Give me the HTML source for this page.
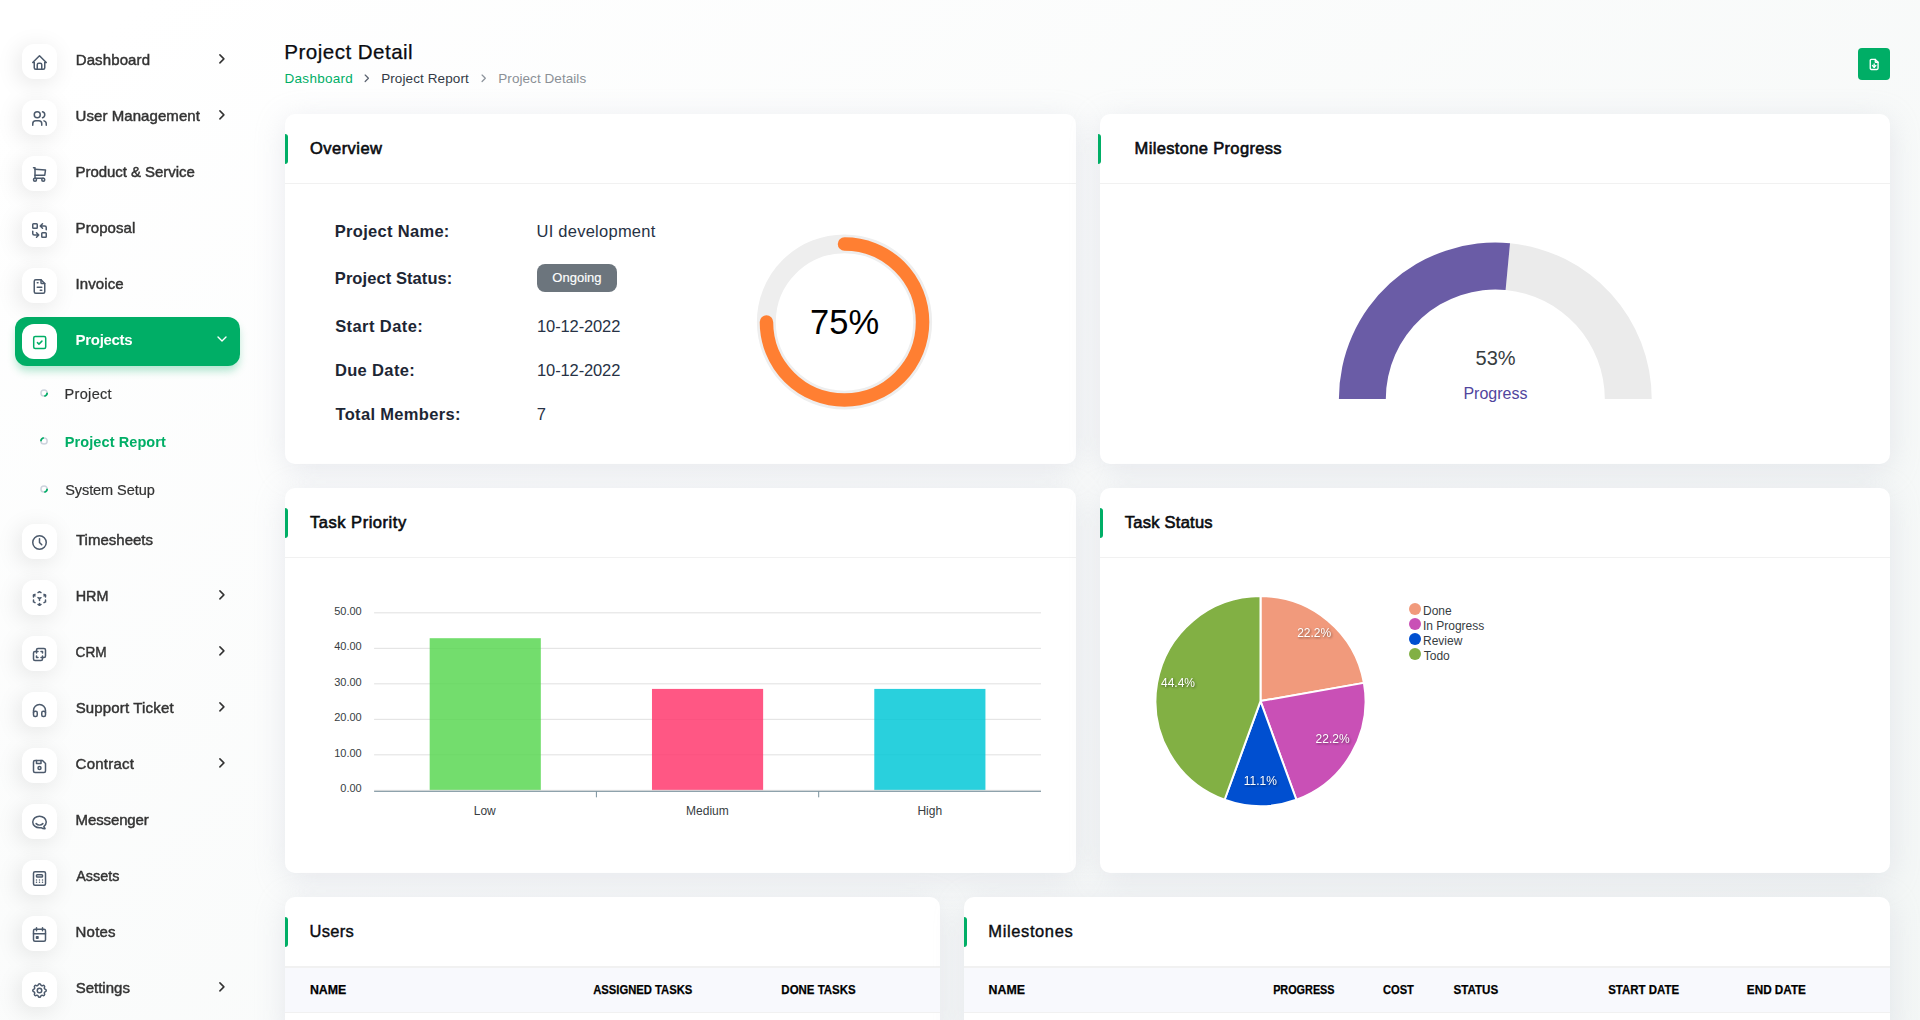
<!DOCTYPE html>
<html lang="en"><head><meta charset="utf-8"><title>Project Detail</title>
<style>
*{box-sizing:border-box}
html,body{margin:0;padding:0}
body{width:1920px;height:1020px;overflow:hidden;position:relative;font-family:"Liberation Sans",sans-serif;
background:#ffffff}
#page{position:relative;width:1920px;height:1020px;overflow:hidden}
#bg{position:absolute;left:0;top:0;width:1920px;height:1700px;background:linear-gradient(141.55deg,rgba(240,244,243,0) 3.46%,#f0f4f3 99.86%)}
#side{position:absolute;left:0;top:0;width:280px;height:1020px;will-change:transform}
#main{position:absolute;left:0;top:0;width:1920px;height:1020px}
.t{position:absolute;white-space:nowrap;line-height:1;display:block}
.i{position:absolute;display:block;overflow:visible}
.ibox{position:absolute;width:35px;height:35px;border-radius:12px;background:#fff;box-shadow:-3px 4px 23px rgba(0,0,0,.1)}
.navact{position:absolute;border-radius:12px;background:#00ae66;box-shadow:0 6px 9px -1px rgba(0,174,102,.3)}
.card{position:absolute;background:#fff;border-radius:10px;box-shadow:0 6px 30px rgba(182,186,203,.3)}
.hline{position:absolute;height:1px;background:#f1f1f1}
.bar{position:absolute;width:3px;height:30px;background:#00ae66;border-radius:0 3px 3px 0}
.btn{position:absolute;width:32px;height:32px;border-radius:4px;background:#00ae66}
.badge{position:absolute;border-radius:8px;background:#6c757d}
.dot{position:absolute;width:12px;height:12px;border-radius:50%}
.thead{position:absolute;background:#f8f9fd;border-top:1px solid #f1f1f1;border-bottom:1px solid #f1f1f1}
</style></head>
<body>
<div id="page">
<div id="bg"></div>
<div id="main">
<span class="t" style="left:284.34px;top:42px;font-size:20.6px;color:#0a0c10;letter-spacing:0.453px;-webkit-text-stroke:0.25px #0a0c10;">Project Detail</span>
<span class="t" style="left:284.59px;top:72px;font-size:13.5px;color:#00ae66;letter-spacing:0.266px;">Dashboard</span>
<svg class="i" style="left:359px;top:70px" width="16" height="16" viewBox="359 70 16 16" ><g transform="translate(360.300 71.800) scale(0.54167)" fill="none" stroke="#5c6370" stroke-width="2.3" stroke-linecap="round" stroke-linejoin="round"><polyline points="9 18 15 12 9 6"/></g></svg>
<span class="t" style="left:381.14px;top:72px;font-size:13.5px;color:#333a45;letter-spacing:0.105px;">Project Report</span>
<svg class="i" style="left:476px;top:70px" width="15" height="16" viewBox="476 70 15 16" ><g transform="translate(477.200 71.800) scale(0.54167)" fill="none" stroke="#8d949c" stroke-width="2.3" stroke-linecap="round" stroke-linejoin="round"><polyline points="9 18 15 12 9 6"/></g></svg>
<span class="t" style="left:498.29px;top:72px;font-size:13.5px;color:#8b9096;letter-spacing:0.061px;">Project Details</span>
<div class="btn" style="left:1858px;top:48px"></div>
<svg class="i" style="left:1866px;top:56px" width="16" height="17" viewBox="1866 56 16 17" ><g transform="translate(1867.450 57.750) scale(0.55833)" fill="none" stroke="#fff" stroke-width="2.4" stroke-linecap="round" stroke-linejoin="round"><path d="M14 3v4a1 1 0 0 0 1 1h4"/><path d="M17 21h-10a2 2 0 0 1 -2 -2v-14a2 2 0 0 1 2 -2h7l5 5v11a2 2 0 0 1 -2 2z"/><line x1="12" y1="11" x2="12" y2="17"/><polyline points="9 14 12 17 15 14"/></g></svg>
<div class="card" style="left:285px;top:114px;width:791px;height:350px"></div>
<div class="hline" style="left:285px;top:183px;width:791px"></div>
<div class="bar" style="left:285px;top:134px"></div>
<span class="t" style="left:310.02px;top:140px;font-size:16.5px;color:#0a0c10;letter-spacing:0.453px;-webkit-text-stroke:0.6px #0a0c10;">Overview</span>
<div class="card" style="left:1100px;top:114px;width:790px;height:350px"></div>
<div class="hline" style="left:1100px;top:183px;width:790px"></div>
<div class="bar" style="left:1098px;top:134px"></div>
<span class="t" style="left:1134.55px;top:140px;font-size:16.5px;color:#0a0c10;letter-spacing:0.343px;-webkit-text-stroke:0.6px #0a0c10;">Milestone Progress</span>
<div class="card" style="left:285px;top:488px;width:791px;height:385px"></div>
<div class="hline" style="left:285px;top:557px;width:791px"></div>
<div class="bar" style="left:285px;top:508px"></div>
<span class="t" style="left:309.94px;top:514px;font-size:16.5px;color:#0a0c10;letter-spacing:0.529px;-webkit-text-stroke:0.6px #0a0c10;">Task Priority</span>
<div class="card" style="left:1100px;top:488px;width:790px;height:385px"></div>
<div class="hline" style="left:1100px;top:557px;width:790px"></div>
<div class="bar" style="left:1100px;top:508px"></div>
<span class="t" style="left:1124.84px;top:514px;font-size:16.5px;color:#0a0c10;letter-spacing:0.247px;-webkit-text-stroke:0.6px #0a0c10;">Task Status</span>
<div class="card" style="left:285px;top:897px;width:655px;height:140px"></div>
<div class="hline" style="left:285px;top:966px;width:655px"></div>
<div class="bar" style="left:285px;top:917px"></div>
<span class="t" style="left:309.53px;top:923px;font-size:16.5px;color:#0a0c10;letter-spacing:0.271px;-webkit-text-stroke:0.4px #0a0c10;">Users</span>
<div class="card" style="left:964px;top:897px;width:926px;height:140px"></div>
<div class="hline" style="left:964px;top:966px;width:926px"></div>
<div class="bar" style="left:964px;top:917px"></div>
<span class="t" style="left:988.35px;top:923px;font-size:16.5px;color:#0a0c10;letter-spacing:0.609px;-webkit-text-stroke:0.4px #0a0c10;">Milestones</span>
<span class="t" style="left:334.81px;top:223px;font-size:16.5px;color:#1d2634;font-weight:700;letter-spacing:0.301px;">Project Name:</span>
<span class="t" style="left:334.81px;top:270px;font-size:16.5px;color:#1d2634;font-weight:700;letter-spacing:0.074px;">Project Status:</span>
<span class="t" style="left:335.19px;top:318px;font-size:16.5px;color:#1d2634;font-weight:700;letter-spacing:0.416px;">Start Date:</span>
<span class="t" style="left:334.91px;top:362px;font-size:16.5px;color:#1d2634;font-weight:700;letter-spacing:0.356px;">Due Date:</span>
<span class="t" style="left:335.47px;top:406px;font-size:16.5px;color:#1d2634;font-weight:700;letter-spacing:0.327px;">Total Members:</span>
<span class="t" style="left:536.53px;top:223px;font-size:16.5px;color:#273245;letter-spacing:0.248px;">UI development</span>
<div class="badge" style="left:537px;top:264px;width:80px;height:28px"></div>
<span class="t" style="left:552.36px;top:271px;font-size:13.0px;color:#fff;letter-spacing:0.007px;-webkit-text-stroke:0.15px #fff;">Ongoing</span>
<span class="t" style="left:537.05px;top:318px;font-size:16.5px;color:#273245;letter-spacing:-0.124px;">10-12-2022</span>
<span class="t" style="left:537.05px;top:362px;font-size:16.5px;color:#273245;letter-spacing:-0.124px;">10-12-2022</span>
<span class="t" style="left:536.76px;top:406px;font-size:16.5px;color:#273245;">7</span>
<svg class="i" style="left:753px;top:231px" width="183" height="182" viewBox="753 231 183 182" ><g transform="translate(844.5 322.0)" fill="none"><circle cx="0" cy="0" r="78.15" stroke="#eeeeee" stroke-width="18.9"/><path d="M0 -78.05A78.05 78.05 0 1 1 -78.05 0" stroke="#ff7f32" stroke-width="13.5" stroke-linecap="round"/></g></svg>
<span class="t" style="left:810.11px;top:305px;font-size:34.5px;color:#000;">75%</span>
<svg class="i" style="left:1336px;top:240px" width="319" height="160" viewBox="1336 240 319 160" ><g transform="translate(1495.3 399)"><path d="M14.72 -155.71A156.4 156.4 0 0 1 156.40 -0.00L109.50 -0.00A109.5 109.5 0 0 0 10.30 -109.01Z" fill="#ebebeb"/><path d="M-156.40 -0.00A156.4 156.4 0 0 1 14.72 -155.71L10.30 -109.01A109.5 109.5 0 0 0 -109.50 -0.00Z" fill="#6a5ca6"/></g></svg>
<span class="t" style="left:1475.54px;top:348px;font-size:20.0px;color:#373d3f;">53%</span>
<span class="t" style="left:1463.42px;top:386px;font-size:16.0px;color:#51459d;">Progress</span>
<svg class="i" style="left:300px;top:590px" width="760" height="250" viewBox="300 590 760 250"><line x1="374.1" x2="1041" y1="612.84" y2="612.84" stroke="#e0e0e0" stroke-width="1"/><line x1="374.1" x2="1041" y1="648.34" y2="648.34" stroke="#e0e0e0" stroke-width="1"/><line x1="374.1" x2="1041" y1="683.84" y2="683.84" stroke="#e0e0e0" stroke-width="1"/><line x1="374.1" x2="1041" y1="719.34" y2="719.34" stroke="#e0e0e0" stroke-width="1"/><line x1="374.1" x2="1041" y1="754.84" y2="754.84" stroke="#e0e0e0" stroke-width="1"/><rect x="429.68" y="638.20" width="111.15" height="152.14" fill="#5ad754" fill-opacity="0.85"/><rect x="651.98" y="688.91" width="111.15" height="101.43" fill="#ff3a6e" fill-opacity="0.85"/><rect x="874.28" y="688.91" width="111.15" height="101.43" fill="#03c8d7" fill-opacity="0.85"/><line x1="374.1" x2="1041" y1="790.34" y2="790.34" stroke="#e0e0e0" stroke-width="1"/><line x1="374.1" x2="1041" y1="791.34" y2="791.34" stroke="#78909c" stroke-width="1"/><line x1="596.40" x2="596.40" y1="791.34" y2="797.34" stroke="#78909c" stroke-width="1"/><line x1="818.70" x2="818.70" y1="791.34" y2="797.34" stroke="#78909c" stroke-width="1"/></svg>
<span class="t" style="left:334.20px;top:606px;font-size:11.0px;color:#373d3f;">50.00</span>
<span class="t" style="left:334.20px;top:641px;font-size:11.0px;color:#373d3f;">40.00</span>
<span class="t" style="left:334.20px;top:677px;font-size:11.0px;color:#373d3f;">30.00</span>
<span class="t" style="left:334.20px;top:712px;font-size:11.0px;color:#373d3f;">20.00</span>
<span class="t" style="left:334.20px;top:748px;font-size:11.0px;color:#373d3f;">10.00</span>
<span class="t" style="left:340.31px;top:783px;font-size:11.0px;color:#373d3f;">0.00</span>
<span class="t" style="left:473.74px;top:805px;font-size:12.0px;color:#373d3f;">Low</span>
<span class="t" style="left:686.11px;top:805px;font-size:12.0px;color:#373d3f;">Medium</span>
<span class="t" style="left:917.40px;top:805px;font-size:12.0px;color:#373d3f;">High</span>
<svg class="i" style="left:1150px;top:590px" width="230" height="225" viewBox="1150 590 230 225"><path d="M1260.5 701.1L1260.50 596.10A105 105 0 0 1 1363.90 682.87Z" fill="#f19a7c" stroke="#fff" stroke-width="2" stroke-linejoin="round"/><path d="M1260.5 701.1L1363.90 682.87A105 105 0 0 1 1296.41 799.77Z" fill="#c950b6" stroke="#fff" stroke-width="2" stroke-linejoin="round"/><path d="M1260.5 701.1L1296.41 799.77A105 105 0 0 1 1224.59 799.77Z" fill="#004fd0" stroke="#fff" stroke-width="2" stroke-linejoin="round"/><path d="M1260.5 701.1L1224.59 799.77A105 105 0 0 1 1260.50 596.10Z" fill="#82b044" stroke="#fff" stroke-width="2" stroke-linejoin="round"/></svg>
<span class="t" style="left:1297.20px;top:627px;font-size:12.0px;color:#fff;filter:drop-shadow(1px 1px 1px rgba(0,0,0,.45));">22.2%</span>
<span class="t" style="left:1315.60px;top:733px;font-size:12.0px;color:#fff;filter:drop-shadow(1px 1px 1px rgba(0,0,0,.45));">22.2%</span>
<span class="t" style="left:1243.69px;top:775px;font-size:12.0px;color:#fff;filter:drop-shadow(1px 1px 1px rgba(0,0,0,.45));">11.1%</span>
<span class="t" style="left:1160.97px;top:677px;font-size:12.0px;color:#fff;filter:drop-shadow(1px 1px 1px rgba(0,0,0,.45));">44.4%</span>
<div class="dot" style="left:1409.2px;top:603.10px;background:#f19a7c"></div>
<span class="t" style="left:1423.02px;top:605px;font-size:12.0px;color:#373d3f;">Done</span>
<div class="dot" style="left:1409.2px;top:618.05px;background:#c950b6"></div>
<span class="t" style="left:1422.90px;top:620px;font-size:12.0px;color:#373d3f;">In Progress</span>
<div class="dot" style="left:1409.2px;top:633.00px;background:#004fd0"></div>
<span class="t" style="left:1423.02px;top:635px;font-size:12.0px;color:#373d3f;">Review</span>
<div class="dot" style="left:1409.2px;top:647.95px;background:#82b044"></div>
<span class="t" style="left:1423.74px;top:650px;font-size:12.0px;color:#373d3f;">Todo</span>
<div class="thead" style="left:285px;top:967px;width:655px;height:46px"></div>
<div class="thead" style="left:964px;top:967px;width:926px;height:46px"></div>
<span class="t" style="left:309px;top:984px;font-size:12.5px;color:#000;font-weight:700;-webkit-text-stroke:0.25px #000;transform:translateX(0.91px) scaleX(0.9878);transform-origin:0 0;">NAME</span>
<span class="t" style="left:593px;top:984px;font-size:12.5px;color:#000;font-weight:700;-webkit-text-stroke:0.25px #000;transform:translateX(0.14px) scaleX(0.9000);transform-origin:0 0;">ASSIGNED TASKS</span>
<span class="t" style="left:781px;top:984px;font-size:12.5px;color:#000;font-weight:700;-webkit-text-stroke:0.25px #000;transform:translateX(0.36px) scaleX(0.9167);transform-origin:0 0;">DONE TASKS</span>
<span class="t" style="left:988px;top:984px;font-size:12.5px;color:#000;font-weight:700;-webkit-text-stroke:0.25px #000;transform:translateX(0.61px) scaleX(0.9878);transform-origin:0 0;">NAME</span>
<span class="t" style="left:1273px;top:984px;font-size:12.5px;color:#000;font-weight:700;-webkit-text-stroke:0.25px #000;transform:translateX(0.14px) scaleX(0.8669);transform-origin:0 0;">PROGRESS</span>
<span class="t" style="left:1383px;top:984px;font-size:12.5px;color:#000;font-weight:700;-webkit-text-stroke:0.25px #000;transform:translateX(0.06px) scaleX(0.8882);transform-origin:0 0;">COST</span>
<span class="t" style="left:1453px;top:984px;font-size:12.5px;color:#000;font-weight:700;-webkit-text-stroke:0.25px #000;transform:translateX(0.54px) scaleX(0.9272);transform-origin:0 0;">STATUS</span>
<span class="t" style="left:1608px;top:984px;font-size:12.5px;color:#000;font-weight:700;-webkit-text-stroke:0.25px #000;transform:translateX(0.19px) scaleX(0.9163);transform-origin:0 0;">START DATE</span>
<span class="t" style="left:1746px;top:984px;font-size:12.5px;color:#000;font-weight:700;-webkit-text-stroke:0.25px #000;transform:translateX(0.84px) scaleX(0.9386);transform-origin:0 0;">END DATE</span>
</div>
<div id="side">
<div class="navact" style="left:15px;top:317px;width:225px;height:49px"></div>
<div class="ibox" style="left:22px;top:44.0px"></div>
<svg class="i" style="left:29px;top:52px" width="21" height="21" viewBox="29 52 21 21" ><g transform="translate(30.500 53.500) scale(0.75000)" fill="none" stroke="#4c5a6c" stroke-width="2" stroke-linecap="round" stroke-linejoin="round"><polyline points="5 12 3 12 12 3 21 12 19 12"/><path d="M5 12v7a2 2 0 0 0 2 2h10a2 2 0 0 0 2 -2v-7"/><path d="M9 21v-6a2 2 0 0 1 2 -2h2a2 2 0 0 1 2 2v6"/></g></svg>
<span class="t" style="left:75.70px;top:52px;font-size:15.0px;color:#333333;letter-spacing:0.120px;-webkit-text-stroke:0.45px #333333;">Dashboard</span>
<svg class="i" style="left:212px;top:49px" width="19" height="19" viewBox="212 49 19 19" ><g transform="translate(213.900 50.900) scale(0.66667)" fill="none" stroke="#333" stroke-width="2.3" stroke-linecap="round" stroke-linejoin="round"><polyline points="9 18 15 12 9 6"/></g></svg>
<div class="ibox" style="left:22px;top:100.0px"></div>
<svg class="i" style="left:29px;top:108px" width="21" height="21" viewBox="29 108 21 21" ><g transform="translate(30.500 109.500) scale(0.75000)" fill="none" stroke="#4c5a6c" stroke-width="2" stroke-linecap="round" stroke-linejoin="round"><circle cx="9" cy="7" r="4"/><path d="M3 21v-2a4 4 0 0 1 4 -4h4a4 4 0 0 1 4 4v2"/><path d="M16 3.13a4 4 0 0 1 0 7.75"/><path d="M21 21v-2a4 4 0 0 0 -3 -3.85"/></g></svg>
<span class="t" style="left:75.57px;top:108px;font-size:15.0px;color:#333333;letter-spacing:0.066px;-webkit-text-stroke:0.45px #333333;">User Management</span>
<svg class="i" style="left:212px;top:105px" width="19" height="19" viewBox="212 105 19 19" ><g transform="translate(213.900 106.900) scale(0.66667)" fill="none" stroke="#333" stroke-width="2.3" stroke-linecap="round" stroke-linejoin="round"><polyline points="9 18 15 12 9 6"/></g></svg>
<div class="ibox" style="left:22px;top:156.0px"></div>
<svg class="i" style="left:29px;top:164px" width="21" height="21" viewBox="29 164 21 21" ><g transform="translate(30.500 165.500) scale(0.75000)" fill="none" stroke="#4c5a6c" stroke-width="2" stroke-linecap="round" stroke-linejoin="round"><circle cx="6" cy="19" r="2"/><circle cx="17" cy="19" r="2"/><path d="M17 17h-11v-14h-2"/><path d="M6 5l14 1l-1 7h-13"/></g></svg>
<span class="t" style="left:75.59px;top:164px;font-size:15.0px;color:#333333;letter-spacing:-0.057px;-webkit-text-stroke:0.45px #333333;">Product &amp; Service</span>
<div class="ibox" style="left:22px;top:212.0px"></div>
<svg class="i" style="left:29px;top:220px" width="21" height="21" viewBox="29 220 21 21" ><g transform="translate(30.500 221.500) scale(0.75000)" fill="none" stroke="#4c5a6c" stroke-width="2" stroke-linecap="round" stroke-linejoin="round"><rect x="3" y="3" width="6" height="6" rx="1"/><rect x="15" y="15" width="6" height="6" rx="1"/><path d="M21 11v-3a2 2 0 0 0 -2 -2h-6l3 3m0 -6l-3 3"/><path d="M3 13v3a2 2 0 0 0 2 2h6l-3 -3m0 6l3 -3"/></g></svg>
<span class="t" style="left:75.59px;top:220px;font-size:15.0px;color:#333333;letter-spacing:0.081px;-webkit-text-stroke:0.45px #333333;">Proposal</span>
<div class="ibox" style="left:22px;top:268.0px"></div>
<svg class="i" style="left:29px;top:276px" width="21" height="21" viewBox="29 276 21 21" ><g transform="translate(30.500 277.500) scale(0.75000)" fill="none" stroke="#4c5a6c" stroke-width="2" stroke-linecap="round" stroke-linejoin="round"><path d="M14 3v4a1 1 0 0 0 1 1h4"/><path d="M17 21h-10a2 2 0 0 1 -2 -2v-14a2 2 0 0 1 2 -2h7l5 5v11a2 2 0 0 1 -2 2z"/><line x1="9" y1="7" x2="10" y2="7"/><line x1="9" y1="13" x2="15" y2="13"/><line x1="13" y1="17" x2="15" y2="17"/></g></svg>
<span class="t" style="left:75.55px;top:276px;font-size:15.0px;color:#333333;letter-spacing:0.095px;-webkit-text-stroke:0.45px #333333;">Invoice</span>
<div class="ibox" style="left:22px;top:524.0px"></div>
<svg class="i" style="left:29px;top:532px" width="21" height="21" viewBox="29 532 21 21" ><g transform="translate(30.500 533.500) scale(0.75000)" fill="none" stroke="#4c5a6c" stroke-width="2" stroke-linecap="round" stroke-linejoin="round"><circle cx="12" cy="12" r="9"/><polyline points="12 7 12 12 15 15"/></g></svg>
<span class="t" style="left:75.99px;top:532px;font-size:15.0px;color:#333333;letter-spacing:0.006px;-webkit-text-stroke:0.45px #333333;">Timesheets</span>
<div class="ibox" style="left:22px;top:580.0px"></div>
<svg class="i" style="left:29px;top:588px" width="21" height="21" viewBox="29 588 21 21" ><g transform="translate(30.500 589.500) scale(0.75000)" fill="none" stroke="#4c5a6c" stroke-width="2" stroke-linecap="round" stroke-linejoin="round"><path d="M6 17.6l-2 -1.1v-2.5"/><path d="M4 10v-2.5l2 -1.1"/><path d="M10 4.1l2 -1.1l2 1.1"/><path d="M18 6.4l2 1.1v2.5"/><path d="M20 14v2.5l-2 1.12"/><path d="M14 19.9l-2 1.1l-2 -1.1"/><line x1="12" y1="12" x2="14" y2="10.9"/><line x1="18" y1="8.6" x2="20" y2="7.5"/><line x1="12" y1="12" x2="12" y2="14.5"/><line x1="12" y1="18.5" x2="12" y2="21"/><path d="M12 12l-2 -1.12"/><line x1="6" y1="8.6" x2="4" y2="7.5"/></g></svg>
<span class="t" style="left:75px;top:588px;font-size:15.0px;color:#333333;-webkit-text-stroke:0.45px #333333;transform:translateX(0.64px) scaleX(0.9582);transform-origin:0 0;">HRM</span>
<svg class="i" style="left:212px;top:585px" width="19" height="19" viewBox="212 585 19 19" ><g transform="translate(213.900 586.900) scale(0.66667)" fill="none" stroke="#333" stroke-width="2.3" stroke-linecap="round" stroke-linejoin="round"><polyline points="9 18 15 12 9 6"/></g></svg>
<div class="ibox" style="left:22px;top:636.0px"></div>
<svg class="i" style="left:29px;top:644px" width="21" height="21" viewBox="29 644 21 21" ><g transform="translate(30.500 645.500) scale(0.75000)" fill="none" stroke="#4c5a6c" stroke-width="2" stroke-linecap="round" stroke-linejoin="round"><path d="M16 16v2a2 2 0 0 1 -2 2h-8a2 2 0 0 1 -2 -2v-8a2 2 0 0 1 2 -2h2v-2a2 2 0 0 1 2 -2h8a2 2 0 0 1 2 2v8a2 2 0 0 1 -2 2h-2"/><polyline points="10 8 8 8 8 10"/><polyline points="8 14 8 16 10 16"/><polyline points="14 8 16 8 16 10"/><polyline points="16 14 16 16 14 16"/></g></svg>
<span class="t" style="left:75px;top:644px;font-size:15.0px;color:#333333;-webkit-text-stroke:0.45px #333333;transform:translateX(0.62px) scaleX(0.9073);transform-origin:0 0;">CRM</span>
<svg class="i" style="left:212px;top:641px" width="19" height="19" viewBox="212 641 19 19" ><g transform="translate(213.900 642.900) scale(0.66667)" fill="none" stroke="#333" stroke-width="2.3" stroke-linecap="round" stroke-linejoin="round"><polyline points="9 18 15 12 9 6"/></g></svg>
<div class="ibox" style="left:22px;top:692.0px"></div>
<svg class="i" style="left:29px;top:700px" width="21" height="21" viewBox="29 700 21 21" ><g transform="translate(30.500 701.500) scale(0.75000)" fill="none" stroke="#4c5a6c" stroke-width="2" stroke-linecap="round" stroke-linejoin="round"><rect x="4" y="13" rx="2" width="5" height="7"/><rect x="15" y="13" rx="2" width="5" height="7"/><path d="M4 15v-3a8 8 0 0 1 16 0v3"/></g></svg>
<span class="t" style="left:75.65px;top:700px;font-size:15.0px;color:#333333;letter-spacing:0.158px;-webkit-text-stroke:0.45px #333333;">Support Ticket</span>
<svg class="i" style="left:212px;top:697px" width="19" height="19" viewBox="212 697 19 19" ><g transform="translate(213.900 698.900) scale(0.66667)" fill="none" stroke="#333" stroke-width="2.3" stroke-linecap="round" stroke-linejoin="round"><polyline points="9 18 15 12 9 6"/></g></svg>
<div class="ibox" style="left:22px;top:748.0px"></div>
<svg class="i" style="left:29px;top:756px" width="21" height="21" viewBox="29 756 21 21" ><g transform="translate(30.500 757.500) scale(0.75000)" fill="none" stroke="#4c5a6c" stroke-width="2" stroke-linecap="round" stroke-linejoin="round"><path d="M6 4h10l4 4v10a2 2 0 0 1 -2 2h-12a2 2 0 0 1 -2 -2v-12a2 2 0 0 1 2 -2"/><circle cx="12" cy="14" r="2"/><polyline points="14 4 14 8 8 8 8 4"/></g></svg>
<span class="t" style="left:75.57px;top:756px;font-size:15.0px;color:#333333;letter-spacing:0.231px;-webkit-text-stroke:0.45px #333333;">Contract</span>
<svg class="i" style="left:212px;top:753px" width="19" height="19" viewBox="212 753 19 19" ><g transform="translate(213.900 754.900) scale(0.66667)" fill="none" stroke="#333" stroke-width="2.3" stroke-linecap="round" stroke-linejoin="round"><polyline points="9 18 15 12 9 6"/></g></svg>
<div class="ibox" style="left:22px;top:804.0px"></div>
<svg class="i" style="left:29px;top:812px" width="21" height="21" viewBox="29 812 21 21" ><g transform="translate(30.500 813.500) scale(0.75000)" fill="none" stroke="#4c5a6c" stroke-width="2" stroke-linecap="round" stroke-linejoin="round"><path d="M17.802 17.292s.077 -.055 .2 -.149c1.843 -1.425 3 -3.49 3 -5.789c0 -4.286 -4.03 -7.764 -9 -7.764c-4.97 0 -9 3.478 -9 7.764c0 4.288 4.03 7.646 9 7.646c.424 0 1.12 -.028 2.088 -.084c1.262 .82 3.104 1.493 4.716 1.493c.499 0 .734 -.41 .414 -.828c-.486 -.596 -1.156 -1.551 -1.416 -2.29z"/><path d="M7.5 13.5c2.5 2.5 6.5 2.5 9 0"/></g></svg>
<span class="t" style="left:75.59px;top:812px;font-size:15.0px;color:#333333;letter-spacing:-0.123px;-webkit-text-stroke:0.45px #333333;">Messenger</span>
<div class="ibox" style="left:22px;top:860.0px"></div>
<svg class="i" style="left:29px;top:868px" width="21" height="21" viewBox="29 868 21 21" ><g transform="translate(30.500 869.500) scale(0.75000)" fill="none" stroke="#4c5a6c" stroke-width="2" stroke-linecap="round" stroke-linejoin="round"><rect x="4" y="3" width="16" height="18" rx="2"/><rect x="8" y="7" width="8" height="3" rx="1"/><line x1="8" y1="14" x2="8" y2="14.01"/><line x1="12" y1="14" x2="12" y2="14.01"/><line x1="16" y1="14" x2="16" y2="14.01"/><line x1="8" y1="17" x2="8" y2="17.01"/><line x1="12" y1="17" x2="12" y2="17.01"/><line x1="16" y1="17" x2="16" y2="17.01"/></g></svg>
<span class="t" style="left:76px;top:868px;font-size:15.0px;color:#333333;-webkit-text-stroke:0.45px #333333;transform:translateX(0.29px) scaleX(0.9556);transform-origin:0 0;">Assets</span>
<div class="ibox" style="left:22px;top:916.0px"></div>
<svg class="i" style="left:29px;top:924px" width="21" height="21" viewBox="29 924 21 21" ><g transform="translate(30.500 925.500) scale(0.75000)" fill="none" stroke="#4c5a6c" stroke-width="2" stroke-linecap="round" stroke-linejoin="round"><rect x="4" y="5" width="16" height="16" rx="2"/><line x1="16" y1="3" x2="16" y2="7"/><line x1="8" y1="3" x2="8" y2="7"/><line x1="4" y1="11" x2="20" y2="11"/><rect x="8" y="15" width="2" height="2"/></g></svg>
<span class="t" style="left:75.59px;top:924px;font-size:15.0px;color:#333333;letter-spacing:0.210px;-webkit-text-stroke:0.45px #333333;">Notes</span>
<div class="ibox" style="left:22px;top:972.0px"></div>
<svg class="i" style="left:29px;top:980px" width="21" height="21" viewBox="29 980 21 21" ><g transform="translate(30.500 981.500) scale(0.75000)" fill="none" stroke="#4c5a6c" stroke-width="2" stroke-linecap="round" stroke-linejoin="round"><path d="M10.325 4.317c.426 -1.756 2.924 -1.756 3.35 0a1.724 1.724 0 0 0 2.573 1.066c1.543 -.94 3.31 .826 2.37 2.37a1.724 1.724 0 0 0 1.065 2.572c1.756 .426 1.756 2.924 0 3.35a1.724 1.724 0 0 0 -1.066 2.573c.94 1.543 -.826 3.31 -2.37 2.37a1.724 1.724 0 0 0 -2.572 1.065c-.426 1.756 -2.924 1.756 -3.35 0a1.724 1.724 0 0 0 -2.573 -1.066c-1.543 .94 -3.31 -.826 -2.37 -2.37a1.724 1.724 0 0 0 -1.065 -2.572c-1.756 -.426 -1.756 -2.924 0 -3.35a1.724 1.724 0 0 0 1.066 -2.573c-.94 -1.543 .826 -3.31 2.37 -2.37c1 .608 2.296 .07 2.572 -1.065z"/><circle cx="12" cy="12" r="3"/></g></svg>
<span class="t" style="left:75.65px;top:980px;font-size:15.0px;color:#333333;letter-spacing:0.010px;-webkit-text-stroke:0.45px #333333;">Settings</span>
<svg class="i" style="left:212px;top:977px" width="19" height="19" viewBox="212 977 19 19" ><g transform="translate(213.900 978.900) scale(0.66667)" fill="none" stroke="#333" stroke-width="2.3" stroke-linecap="round" stroke-linejoin="round"><polyline points="9 18 15 12 9 6"/></g></svg>
<div class="ibox" style="left:22px;top:324px;box-shadow:none"></div>
<svg class="i" style="left:29px;top:332px" width="21" height="21" viewBox="29 332 21 21" ><g transform="translate(30.700 333.600) scale(0.75000)" fill="none" stroke="#00ae66" stroke-width="2" stroke-linecap="round" stroke-linejoin="round"><rect x="4" y="4" width="16" height="16" rx="2"/><path d="M9 12l2 2l4 -4"/></g></svg>
<span class="t" style="left:75.61px;top:332px;font-size:15.0px;color:#fff;font-weight:700;letter-spacing:-0.314px;">Projects</span>
<svg class="i" style="left:213px;top:330px" width="18" height="18" viewBox="213 330 18 18" ><g transform="translate(214.000 331.000) scale(0.66667)" fill="none" stroke="#fff" stroke-width="2" stroke-linecap="round" stroke-linejoin="round"><polyline points="6 9 12 15 18 9"/></g></svg>
<svg class="i" style="left:38px;top:387px" width="13" height="12" viewBox="38 387 13 12" ><g transform="translate(44.05 393.0) rotate(0)" fill="none"><circle cx="0" cy="0" r="3.1" stroke="#cdd3dd" stroke-width="1.5"/><path d="M3.09 -0.27A3.1 3.1 0 0 1 0.27 3.09" stroke="#00ae66" stroke-width="1.75"/></g></svg>
<span class="t" style="left:64.61px;top:387px;font-size:14.5px;color:#333333;letter-spacing:0.309px;-webkit-text-stroke:0.2px #333333;">Project</span>
<svg class="i" style="left:38px;top:435px" width="13" height="12" viewBox="38 435 13 12" ><g transform="translate(44.05 441.0) rotate(180)" fill="none"><circle cx="0" cy="0" r="3.1" stroke="#cdd3dd" stroke-width="1.5"/><path d="M3.09 -0.27A3.1 3.1 0 0 1 0.27 3.09" stroke="#00ae66" stroke-width="1.75"/></g></svg>
<span class="t" style="left:64.74px;top:435px;font-size:14.5px;color:#00ae66;font-weight:700;letter-spacing:0.094px;">Project Report</span>
<svg class="i" style="left:38px;top:483px" width="13" height="12" viewBox="38 483 13 12" ><g transform="translate(44.05 489.0) rotate(0)" fill="none"><circle cx="0" cy="0" r="3.1" stroke="#cdd3dd" stroke-width="1.5"/><path d="M3.09 -0.27A3.1 3.1 0 0 1 0.27 3.09" stroke="#00ae66" stroke-width="1.75"/></g></svg>
<span class="t" style="left:65.15px;top:483px;font-size:14.5px;color:#333333;letter-spacing:-0.056px;-webkit-text-stroke:0.2px #333333;">System Setup</span>
</div>
</div>
</body></html>
